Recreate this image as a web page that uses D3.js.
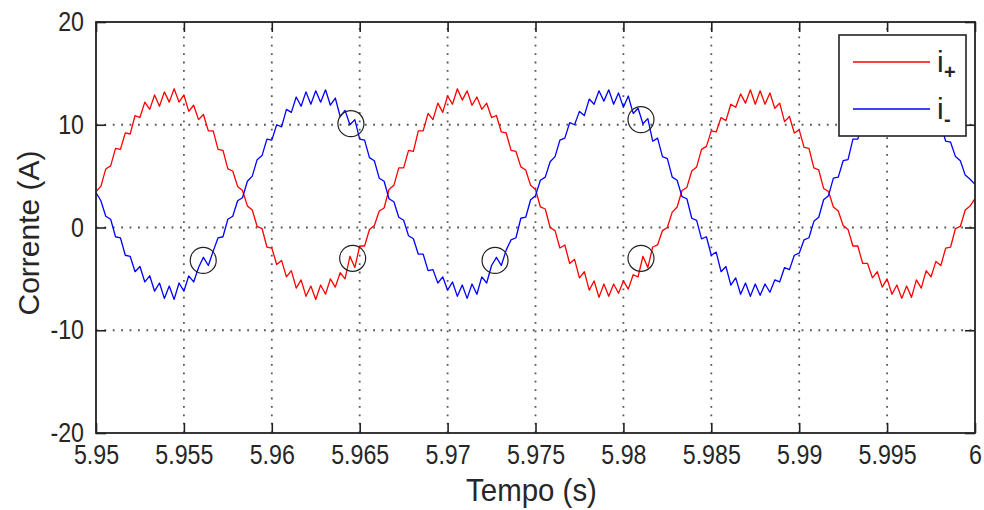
<!DOCTYPE html>
<html><head><meta charset="utf-8">
<script src="https://cdn.jsdelivr.net/npm/d3@7"></script>
<style>body{margin:0;background:#fff}svg{display:block}</style>
</head><body>
<svg id="chart" width="984" height="510"></svg>
<script>
// ---- data ----
const xTicks = [5.95, 5.955, 5.96, 5.965, 5.97, 5.975, 5.98, 5.985, 5.99, 5.995, 6];
const xTickLabels = ["5.95","5.955","5.96","5.965","5.97","5.975","5.98","5.985","5.99","5.995","6"];
const yTicks = [-20, -10, 0, 10, 20];
const yTickLabels = ["-20","-10","0","10","20"];
const xDomain = [5.95, 6];
const yDomain = [-20, 20];
const sampleStart = 5.95;          // first sample time (s)
const sampleStep = 0.05 / 180;      // sampling interval (s)

// i+ (red)
const iPlus = [
  3.5, 4.0, 5.7, 6.0, 7.7, 7.6, 9.2, 9.1, 10.9, 10.7,
  12.2, 11.5, 12.9, 11.8, 13.2, 12.2, 13.5, 12.2, 12.9, 11.3,
  11.9, 10.5, 11.0, 9.4, 9.4, 7.6, 7.5, 5.7, 5.5, 4.0,
  3.6, 2.1, 1.7, 0.1, -0.1, -1.9, -2.0, -3.6, -3.2, -4.8,
  -4.2, -5.9, -5.1, -6.7, -5.7, -7.0, -5.6, -6.5, -5.0, -5.8,
  -4.4, -5.0, -2.8, -3.9, -1.8, -1.8, -0.2, 0.2, 1.6, 1.9,
  3.7, 4.1, 5.8, 5.8, 7.5, 7.4, 9.4, 9.4, 11.1, 10.5,
  12.1, 11.2, 12.8, 12.0, 13.5, 12.4, 13.3, 11.9, 12.7, 11.5,
  12.1, 10.7, 10.9, 9.3, 9.2, 7.5, 7.4, 5.9, 5.6, 4.1,
  3.7, 2.0, 1.8, 0.0, -0.3, -2.0, -1.7, -3.5, -3.1, -4.9,
  -4.3, -6.1, -5.2, -6.8, -5.5, -6.7, -5.5, -6.4, -5.2, -6.0,
  -4.6, -4.8, -2.8, -3.9, -1.9, -1.7, -0.3, 0.0, 1.5, 2.0,
  3.6, 3.9, 5.5, 5.9, 7.6, 7.9, 9.4, 9.3, 10.7, 10.4,
  12.0, 11.7, 13.0, 12.1, 13.4, 12.0, 13.3, 12.0, 13.1, 11.6,
  12.1, 10.3, 10.8, 9.2, 9.5, 7.8, 7.7, 5.8, 5.6, 3.8,
  3.5, 2.0, 1.6, 0.2, -0.2, -1.8, -1.8, -3.5, -3.5, -4.9,
  -4.3, -5.8, -5.0, -6.5, -5.6, -6.9, -5.7, -6.8, -5.1, -5.9,
  -4.2, -4.8, -3.3, -3.7, -2.0, -1.9, -0.1, 0.1, 1.7, 2.1,
  2.8
];
// i- (blue)
const iMinus = [
  3.4, 2.6, 1.1, 0.8, -0.9, -1.0, -2.7, -2.8, -4.3, -3.8,
  -5.3, -4.7, -6.2, -5.4, -6.9, -5.7, -7.0, -5.4, -6.2, -4.7,
  -5.3, -3.9, -2.9, -3.7, -2.3, -1.0, -0.9, 0.8, 1.1, 2.6,
  2.9, 4.5, 5.0, 6.6, 7.0, 8.6, 8.5, 10.0, 9.8, 11.5,
  11.2, 12.7, 11.8, 13.2, 12.0, 13.3, 12.2, 13.4, 11.9, 12.6,
  10.8, 11.4, 10.0, 10.5, 8.6, 8.5, 6.8, 6.5, 4.8, 4.5,
  2.8, 2.5, 1.0, 0.7, -0.8, -1.1, -2.6, -2.6, -4.2, -4.1,
  -5.4, -4.8, -6.1, -5.3, -6.7, -5.6, -6.9, -5.5, -6.5, -4.8,
  -5.4, -3.7, -2.9, -3.7, -2.2, -1.2, -1.0, 0.9, 1.0, 2.7,
  3.1, 4.6, 4.9, 6.4, 6.9, 8.5, 8.7, 10.2, 10.0, 11.3,
  10.9, 12.5, 12.0, 13.3, 12.3, 13.4, 12.0, 13.1, 11.7, 12.8,
  11.1, 11.6, 10.1, 10.6, 8.4, 8.7, 6.9, 6.7, 4.9, 4.6,
  3.0, 2.8, 0.9, 0.7, -1.1, -0.9, -2.7, -2.4, -4.3, -3.8,
  -5.6, -4.9, -6.5, -5.4, -6.7, -5.5, -6.6, -5.5, -6.3, -5.1,
  -5.3, -3.9, -4.1, -2.7, -2.5, -1.2, -1.0, 0.6, 1.0, 2.7,
  3.1, 4.8, 4.9, 6.5, 6.6, 8.6, 8.6, 10.4, 9.9, 11.6,
  10.7, 12.5, 11.7, 13.4, 12.4, 13.4, 12.1, 13.0, 11.8, 12.6,
  11.2, 11.5, 10.0, 10.0, 8.4, 8.3, 6.9, 6.5, 5.1, 4.7,
  4.2
];
// circled spots (time, current)
const markT = [5.9561, 5.9645, 5.9646, 5.9727, 5.9810, 5.9810];
const markV = [-3.2, 10.1, -3.0, -3.2, 10.5, -3.0];

const seriesNames = ["i", "i"];
const seriesSubs = ["+", "-"];
const seriesColors = ["#ff0000", "#0000ff"];
const xLabel = "Tempo (s)";
const yLabel = "Corrente (A)";

// ---- layout ----
const L = 96, R = 975, T = 22, B = 433;
const svg = d3.select("#chart");
const x = d3.scaleLinear().domain(xDomain).range([L, R]);
const y = d3.scaleLinear().domain(yDomain).range([B, T]);
const textColor = "#262626";
const fontFam = "'Liberation Sans', Arial, Helvetica, sans-serif";

svg.append("rect").attr("width", 984).attr("height", 510).attr("fill", "#fff");

// grid
const grid = svg.append("g").attr("stroke", "#555").attr("stroke-width", 1.8)
  .attr("stroke-dasharray", "1.8,6.6");
grid.selectAll(".gx").data(xTicks.slice(1, -1)).join("line")
  .attr("x1", d => x(d)).attr("x2", d => x(d)).attr("y1", B).attr("y2", T);
grid.selectAll(".gy").data(yTicks.slice(1, -1)).join("line")
  .attr("x1", L).attr("x2", R).attr("y1", d => y(d)).attr("y2", d => y(d));

// series
svg.append("clipPath").attr("id", "clip").append("rect")
  .attr("x", L).attr("y", T).attr("width", R - L).attr("height", B - T);
const line = d3.line().x((d, i) => x(sampleStart + i * sampleStep)).y(d => y(d));
[iPlus, iMinus].forEach((s, k) => {
  svg.append("path").datum(s).attr("clip-path", "url(#clip)")
    .attr("fill", "none").attr("stroke", seriesColors[k])
    .attr("stroke-width", 1.3).attr("stroke-linejoin", "round").attr("d", line);
});

// circles
svg.append("g").selectAll("circle").data(markT).join("circle")
  .attr("cx", d => x(d)).attr("cy", (d, i) => y(markV[i])).attr("r", 13)
  .attr("fill", "none").attr("stroke", "#222").attr("stroke-width", 1.2);

// axes
const tickLen = 10, sx = 0.86;
const ax = svg.append("g").attr("transform", `translate(0,${B})`)
  .call(d3.axisBottom(x).tickValues(xTicks).tickSize(-tickLen).tickPadding(12)
    .tickFormat((d, i) => xTickLabels[i]));
ax.selectAll("text").attr("transform", `scale(${sx},1)`);
const ay = svg.append("g").attr("transform", `translate(${L},0)`)
  .call(d3.axisLeft(y).tickValues(yTicks).tickSize(-tickLen).tickPadding(0)
    .tickFormat((d, i) => yTickLabels[i]));
ay.selectAll("text").attr("x", -12 / sx).attr("transform", `scale(${sx},1)`);
const at = svg.append("g").attr("transform", `translate(0,${T})`)
  .call(d3.axisTop(x).tickValues(xTicks).tickSize(-tickLen).tickFormat(""));
const ar = svg.append("g").attr("transform", `translate(${R},0)`)
  .call(d3.axisRight(y).tickValues(yTicks).tickSize(-tickLen).tickFormat(""));
[ax, ay, at, ar].forEach(g => {
  g.select(".domain").remove();
  g.selectAll("line").attr("stroke", "#222").attr("stroke-width", 1.6);
  g.selectAll("text").attr("fill", textColor).attr("font-size", 27)
    .attr("font-family", fontFam);
});
svg.append("rect").attr("x", L).attr("y", T).attr("width", R - L).attr("height", B - T)
  .attr("fill", "none").attr("stroke", "#222").attr("stroke-width", 1.8);

// axis labels
svg.append("text").attr("transform", `translate(${(L + R) / 2 - 4},501) scale(0.92,1)`)
  .attr("text-anchor", "middle").attr("font-size", 32).attr("font-family", fontFam)
  .attr("fill", textColor).text(xLabel);
svg.append("text").attr("transform", `translate(39,233) rotate(-90)`)
  .attr("text-anchor", "middle").attr("font-size", 30).attr("font-family", fontFam)
  .attr("fill", textColor).text(yLabel);

// legend
const lg = svg.append("g");
lg.append("rect").attr("x", 839).attr("y", 35).attr("width", 127).attr("height", 101)
  .attr("fill", "#fff").attr("stroke", "#222").attr("stroke-width", 1.6);
const legY = [62, 109];
seriesNames.forEach((n, k) => {
  lg.append("line").attr("x1", 853).attr("x2", 930).attr("y1", legY[k]).attr("y2", legY[k])
    .attr("stroke", seriesColors[k]).attr("stroke-width", 1.5);
  lg.append("text").attr("x", 937).attr("y", legY[k] + 10).attr("font-size", 30)
    .attr("font-family", fontFam).attr("fill", textColor).text(n);
  lg.append("text").attr("x", 944).attr("y", legY[k] + 17).attr("font-size", 20)
    .attr("font-family", fontFam).attr("fill", textColor).attr("font-weight", "bold")
    .text(seriesSubs[k]);
});
</script>
</body></html>
